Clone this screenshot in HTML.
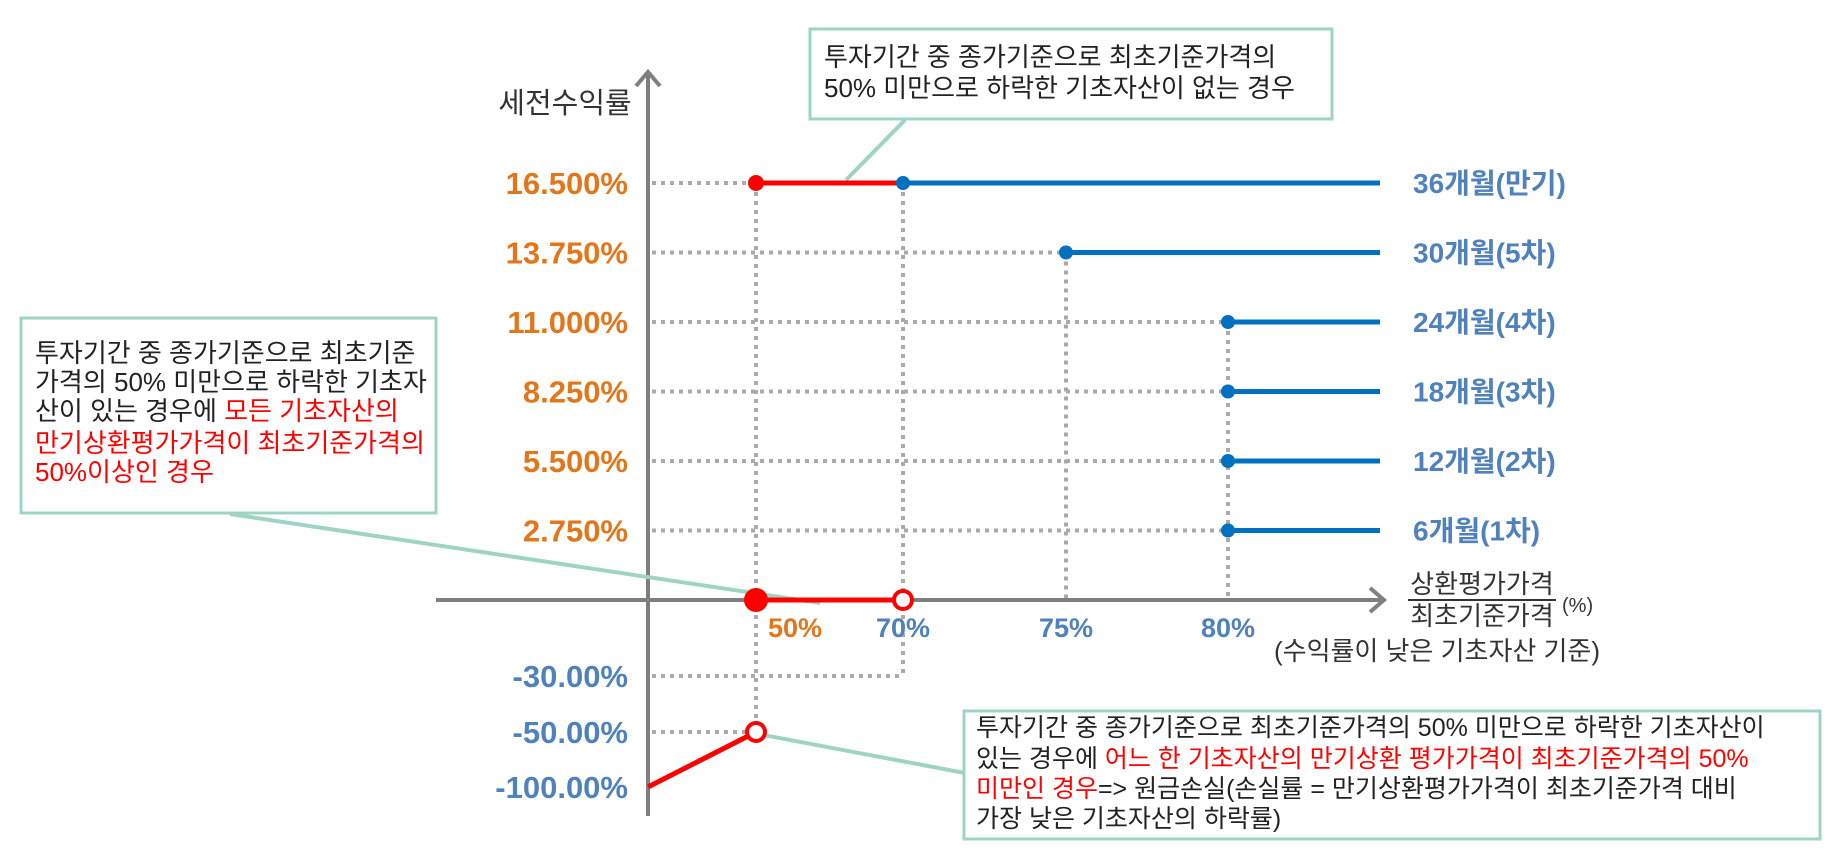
<!DOCTYPE html>
<html><head><meta charset="utf-8"><style>
html,body{margin:0;padding:0;background:#fff;}
svg{display:block;}
text{font-family:"Liberation Sans","Noto Sans CJK KR",sans-serif;}
</style></head><body>
<svg id="chart" width="1836" height="858" viewBox="0 0 1836 858" xmlns="http://www.w3.org/2000/svg">
<g id="grid"></g>
<g id="axes">
 <line x1="436" y1="600" x2="1382" y2="600" stroke="#7f7f7f" stroke-width="4"/>
 <polyline points="1370,588 1384,600 1370,612" fill="none" stroke="#7f7f7f" stroke-width="4"/>
 <line x1="648" y1="816" x2="648" y2="74" stroke="#7f7f7f" stroke-width="4"/>
 <polyline points="636,86 648,72 660,86" fill="none" stroke="#7f7f7f" stroke-width="4"/>
 <text x="565" y="113" font-size="29" fill="#333" text-anchor="middle">세전수익률</text>
 <text x="1482" y="593" font-size="26" fill="#333" text-anchor="middle">상환평가가격</text>
 <line x1="1408" y1="600" x2="1556" y2="600" stroke="#333" stroke-width="2"/>
 <text x="1482" y="625" font-size="26" fill="#333" text-anchor="middle">최초기준가격</text>
 <text x="1562" y="612" font-size="20" fill="#333">(%)</text>
 <text x="1437" y="660" font-size="26" fill="#333" text-anchor="middle">(수익률이 낮은 기초자산 기준)</text>
</g>
<g id="callouts">
 <line x1="905" y1="120" x2="846" y2="180" stroke="#9fd4c4" stroke-width="4"/>
 <line x1="230" y1="514" x2="820" y2="603" stroke="#9fd4c4" stroke-width="4"/>
 <line x1="758" y1="734" x2="965" y2="773" stroke="#9fd4c4" stroke-width="4"/>
</g>
<g id="marks"></g>
<g id="labels"></g>
<g id="boxes">
 <g>
  <rect x="810" y="29" width="522" height="90" fill="#fff" stroke="#9fd4c4" stroke-width="3"/>
  <text x="824" y="66" font-size="26" fill="#222">투자기간 중 종가기준으로 최초기준가격의</text>
  <text x="824" y="97" font-size="26" fill="#222">50% 미만으로 하락한 기초자산이 없는 경우</text>
 </g>
 <g>
  <rect x="21" y="318" width="415" height="195" fill="#fff" stroke="#9fd4c4" stroke-width="3"/>
  <text x="35" y="362" font-size="26" fill="#222">투자기간 중 종가기준으로 최초기준</text>
  <text x="35" y="391" font-size="26" fill="#222">가격의 50% 미만으로 하락한 기초자</text>
  <text x="35" y="420" font-size="26" fill="#222">산이 있는 경우에 <tspan fill="#ff0000">모든 기초자산의</tspan></text>
  <text x="35" y="452" font-size="26" fill="#ff0000">만기상환평가가격이 최초기준가격의</text>
  <text x="35" y="481" font-size="26" fill="#ff0000">50%이상인 경우</text>
 </g>
 <g>
  <rect x="964" y="711" width="856" height="128" fill="#fff" stroke="#9fd4c4" stroke-width="3"/>
  <text x="976" y="736" font-size="25" fill="#222">투자기간 중 종가기준으로 최초기준가격의 50% 미만으로 하락한 기초자산이</text>
  <text x="976" y="767" font-size="25" fill="#222">있는 경우에 <tspan fill="#ff0000">어느 한 기초자산의 만기상환 평가가격이 최초기준가격의 50%</tspan></text>
  <text x="976" y="797" font-size="25" fill="#ff0000">미만인 경우<tspan fill="#222">=&gt; 원금손실(손실률 = 만기상환평가가격이 최초기준가격 대비</tspan></text>
  <text x="976" y="827" font-size="25" fill="#222">가장 낮은 기초자산의 하락률)</text>
 </g>
</g>
</svg>
<script>
// data
const periodLabels = ["36개월(만기)","30개월(5차)","24개월(4차)","18개월(3차)","12개월(2차)","6개월(1차)"];
const couponRates = [16.5, 13.75, 11.0, 8.25, 5.5, 2.75];
const barriers = [70, 75, 80, 80, 80, 80];
const yTickValues = [16.5, 13.75, 11.0, 8.25, 5.5, 2.75, -30, -50, -100];
const yTickLabels = ["16.500%","13.750%","11.000%","8.250%","5.500%","2.750%","-30.00%","-50.00%","-100.00%"];
const xTickValues = [50, 70, 75, 80];
const xTickLabels = ["50%","70%","75%","80%"];
const kiBarrier = 50;
const maxCoupon = 16.5;
const lossStart = -100;
const lossAtBarrier = -50;
const midLossLevel = -30;

// axis functions (piecewise, matching the non-linear original axis)
const yDom = [-100, -50, -30, 0, 16.5], yRng = [787, 732, 676, 600, 183];
const xDom = [0, 50, 70, 75, 80, 100], xRng = [648, 756, 903, 1066, 1228, 1380];
function interp(v, d, r){
  if (v <= d[0]) return r[0] + (v - d[0]) * (r[1]-r[0])/(d[1]-d[0]);
  for (let i=0;i<d.length-1;i++){ if (v<=d[i+1]) return r[i]+(v-d[i])*(r[i+1]-r[i])/(d[i+1]-d[i]); }
  const n=d.length-1; return r[n]+(v-d[n])*(r[n]-r[n-1])/(d[n]-d[n-1]);
}
const y = v => interp(v, yDom, yRng);
const x = v => interp(v, xDom, xRng);
const NS = "http://www.w3.org/2000/svg";
function mk(tag, attrs, parent){ const e=document.createElementNS(NS,tag); for(const k in attrs) e.setAttribute(k, attrs[k]); document.getElementById(parent).appendChild(e); return e; }
const dot = {stroke:"#aaaaaa","stroke-width":4,"stroke-dasharray":"4 5"};
const lineEnd = 1380;
const blue = "#0070c0", red = "#ff0000", orange = "#e2761b", lblue = "#4f81bd";

// grid guide lines
const seenBarrier = {};
couponRates.forEach((v,i)=>{
  const g = mk("line", Object.assign({x1:652,y1:y(v),x2:x(barriers[i]),y2:y(v)},dot),"grid");
  
  
  if (!seenBarrier[barriers[i]] && i > 0) {
    seenBarrier[barriers[i]] = true;
    const gv = mk("line", Object.assign({x1:x(barriers[i]),y1:y(v),x2:x(barriers[i]),y2:y(0)},dot),"grid");
    
    
  }
});
{
  const a = mk("line", Object.assign({x1:x(kiBarrier),y1:y(maxCoupon),x2:x(kiBarrier),y2:y(lossAtBarrier)},dot),"grid");
  
  
  const b = mk("line", Object.assign({x1:x(barriers[0]),y1:y(maxCoupon),x2:x(barriers[0]),y2:y(midLossLevel)},dot),"grid");
  
  
  const c = mk("line", Object.assign({x1:652,y1:y(midLossLevel),x2:x(barriers[0]),y2:y(midLossLevel)},dot),"grid");
  
  
  const d = mk("line", Object.assign({x1:652,y1:y(lossAtBarrier),x2:x(kiBarrier)-10,y2:y(lossAtBarrier)},dot),"grid");
  
  
}

// red payoff segments
{
  const r1 = mk("line",{x1:x(kiBarrier),y1:y(maxCoupon),x2:x(barriers[0]),y2:y(maxCoupon),stroke:red,"stroke-width":5},"marks");
  
  
  const r1d = mk("circle",{cx:x(kiBarrier),cy:y(maxCoupon),r:8,fill:red},"marks");
  
  
  const r2 = mk("line",{x1:x(kiBarrier),y1:y(0),x2:x(barriers[0]),y2:y(0),stroke:red,"stroke-width":5},"marks");
  
  
  const r2d = mk("circle",{cx:x(kiBarrier),cy:y(0),r:12,fill:red},"marks");
  
  
  const r2o = mk("circle",{cx:x(barriers[0]),cy:y(0),r:9,fill:"#fff",stroke:red,"stroke-width":4},"marks");
  
  
  const r3 = mk("line",{x1:x(0),y1:y(lossStart),x2:x(kiBarrier),y2:y(lossAtBarrier),stroke:red,"stroke-width":5},"marks");
  
  
  const r3o = mk("circle",{cx:x(kiBarrier),cy:y(lossAtBarrier),r:9,fill:"#fff",stroke:red,"stroke-width":4},"marks");
  
  
}

// blue redemption lines
couponRates.forEach((v,i)=>{
  const l = mk("line",{x1:x(barriers[i]),y1:y(v),x2:lineEnd,y2:y(v),stroke:blue,"stroke-width":5},"marks");
  
  
  const c = mk("circle",{cx:x(barriers[i]),cy:y(v),r:7,fill:blue},"marks");
  
  
  const t = mk("text",{x:1413,y:y(v)+10,"font-size":28,"font-weight":"bold",fill:lblue},"labels");
  
  
  t.textContent = periodLabels[i];
});

// y tick labels
yTickValues.forEach((v,i)=>{
  const t = mk("text",{x:628,y:y(v)+11,"font-size":31,"font-weight":"bold","text-anchor":"end",fill:v>0?orange:lblue},"labels");
  
  
  t.textContent = yTickLabels[i];
});
// x tick labels
xTickValues.forEach((v,i)=>{
  const t = mk("text",{x:x(v)+(v===kiBarrier?39:0),y:637,"font-size":27,"font-weight":"bold","text-anchor":"middle",fill:v===kiBarrier?orange:lblue},"labels");
  
  
  t.textContent = xTickLabels[i];
});
</script>
</body></html>
